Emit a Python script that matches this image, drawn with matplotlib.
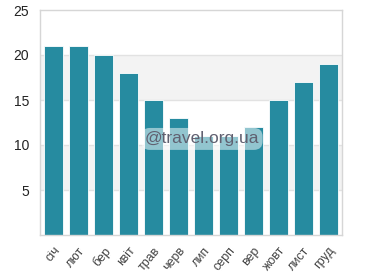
"""
Середня температура по місяцях — стовпчикова діаграма
"""

import matplotlib
matplotlib.use('Agg')
import matplotlib.pyplot as plt
import numpy as np

# ==============================================================================
# Дані
# ==============================================================================
MONTHS = ['січ', 'лют', 'бер', 'квіт', 'трав', 'черв',
          'лип', 'серп', 'вер', 'жовт', 'лист', 'груд']
VALUES = [21, 21, 20, 18, 15, 13, 11, 11, 12, 15, 17, 19]
Y_TICKS = [5, 10, 15, 20, 25]
BANDS = [(5, 10), (15, 20)]

# ==============================================================================
# Стиль
# ==============================================================================
BAR_COLOR = '#268BA0'
BAND_COLOR = '#F3F3F3'
GRID_COLOR = '#E2E2E2'
SPINE_COLOR = '#D6D6D6'
FONT_SIZE = 8.5

plt.rcParams['font.family'] = ['Liberation Sans', 'DejaVu Sans']


def main():
    fig = plt.figure(figsize=(3.82, 2.80), dpi=100)
    ax = fig.add_axes([40 / 382, 1 - 235 / 280, 302 / 382, 225 / 280])

    # фонові смуги
    for lo, hi in BANDS:
        ax.axhspan(lo, hi, color=BAND_COLOR, zorder=0, lw=0)
    for t in Y_TICKS[:-1]:
        ax.axhline(t, color=GRID_COLOR, lw=1.0, zorder=0.5)

    x = np.arange(len(MONTHS))
    ax.bar(x, VALUES, width=0.76, color=BAR_COLOR, edgecolor='white',
           linewidth=0.6, zorder=2)

    ax.set_xlim(-0.55, len(MONTHS) - 0.45)
    ax.set_ylim(0, 25)
    ax.set_yticks(Y_TICKS)
    ax.set_xticks(x)
    ax.set_xticklabels(MONTHS, rotation=50, ha='right', rotation_mode='anchor',
                       color='#444444', fontsize=FONT_SIZE + 0.5)
    ax.tick_params(axis='y', length=0, pad=8, labelsize=FONT_SIZE + 1.5,
                   labelcolor='#222222')
    ax.tick_params(axis='x', length=0, pad=7)

    for spine in ax.spines.values():
        spine.set_color(SPINE_COLOR)
        spine.set_linewidth(1.0)

    # водяний знак
    ax.text(0.536, 0.427, '@travel.org.ua', transform=ax.transAxes,
            ha='center', va='center', fontsize=12.5, color='#606070',
            zorder=5,
            bbox=dict(boxstyle='round,pad=0.2,rounding_size=0.5',
                      facecolor='white', alpha=0.5, edgecolor='none'))

    fig.savefig('out.png', dpi=100)
    plt.close(fig)


if __name__ == '__main__':
    main()
